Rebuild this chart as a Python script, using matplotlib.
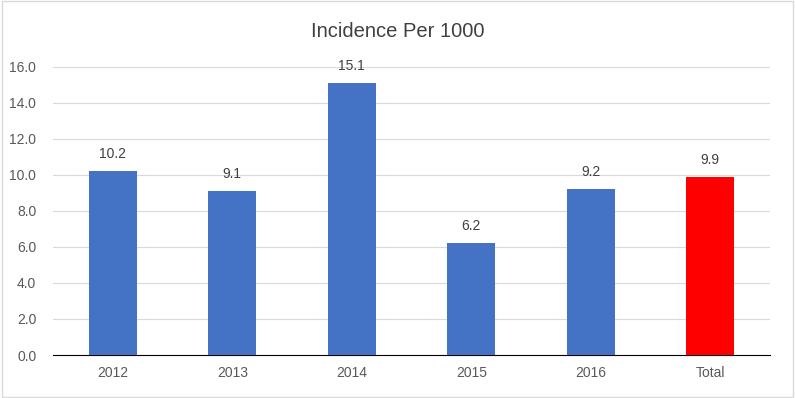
import matplotlib.pyplot as plt
from matplotlib.patches import Rectangle

# datos
categorias = ['2012', '2013', '2014', '2015', '2016', 'Total']
valores = [10.2, 9.1, 15.1, 6.2, 9.2, 9.9]
colores = ['#4472C4'] * 5 + ['#FF0000']
yticks = [0, 2, 4, 6, 8, 10, 12, 14, 16]

plt.rcParams['font.family'] = ['Liberation Sans', 'DejaVu Sans']

fig = plt.figure(figsize=(7.95, 3.98), dpi=100)
ax = fig.add_axes([0.0667, 0.108, 0.902, 0.724])

x = range(len(categorias))
barras = ax.bar(x, valores, width=0.4, color=colores, zorder=3)

for xi, v in zip(x, valores):
    ax.text(xi, v + 0.55, '%.1f' % v, ha='center', va='bottom',
            fontsize=10, color='#404040')

ax.set_xlim(-0.5, len(categorias) - 0.5)
ax.set_ylim(0, 16)
ax.set_yticks(yticks)
ax.set_yticklabels(['%.1f' % t for t in yticks])
ax.set_xticks(list(x))
ax.set_xticklabels(categorias)
ax.tick_params(axis='both', length=0, labelsize=10, labelcolor='#595959')
ax.tick_params(axis='x', pad=8)
ax.tick_params(axis='y', pad=12)

ax.grid(axis='y', color='#D9D9D9', linewidth=0.8, zorder=0)
for s in ['top', 'right', 'left']:
    ax.spines[s].set_visible(False)
ax.spines['bottom'].set_color('#000000')
ax.spines['bottom'].set_linewidth(0.8)

fig.text(0.5, 0.92, 'Incidence Per 1000', ha='center', va='center',
         fontsize=14.5, color='#404040')

# borde del gráfico
fig.patches.append(Rectangle((0.002, 0.003), 0.996, 0.994, transform=fig.transFigure,
                             fill=False, edgecolor='#D9D9D9', linewidth=1))

fig.savefig('out.png', dpi=100)
